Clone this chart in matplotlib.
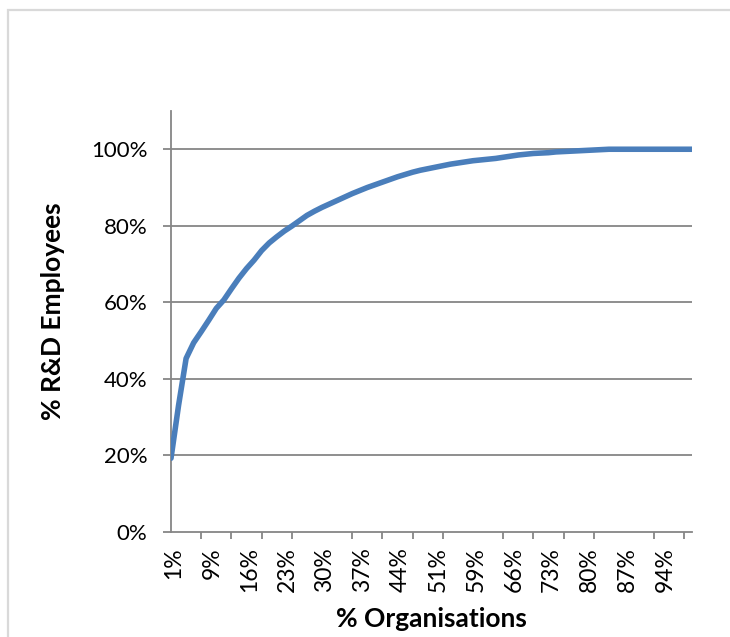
import matplotlib
matplotlib.use("Agg")
import matplotlib.pyplot as plt
import matplotlib.patches as mpatches
import matplotlib.transforms as mtransforms
import numpy as np

# cumulative share of R&D employees, one value per organisation band (70 bands)
rd_share = [
    0.192, 0.330, 0.453, 0.494, 0.523, 0.553, 0.584, 0.606, 0.635, 0.663,
    0.688, 0.710, 0.735, 0.755, 0.771, 0.786, 0.799, 0.813, 0.827, 0.838,
    0.848, 0.857, 0.866, 0.875, 0.884, 0.892, 0.900, 0.907, 0.914, 0.921,
    0.928, 0.934, 0.940, 0.945, 0.949, 0.953, 0.957, 0.961, 0.964, 0.967,
    0.970, 0.972, 0.974, 0.976, 0.979, 0.982, 0.985, 0.987, 0.989, 0.990,
    0.991, 0.993, 0.994, 0.995, 0.996, 0.997, 0.998, 0.999, 1.000, 1.000,
    1.000, 1.000, 1.000, 1.000, 1.000, 1.000, 1.000, 1.000, 1.000, 1.000,
]
xtick_labels = ["1%", "9%", "16%", "23%", "30%", "37%", "44%",
                "51%", "59%", "66%", "73%", "80%", "87%", "94%"]
ytick_values = [0.0, 0.2, 0.4, 0.6, 0.8, 1.0]
ytick_labels = ["0%", "20%", "40%", "60%", "80%", "100%"]

GREY = "#868686"
BLUE = "#4a7ebb"
FONT = "Lato"


def main():
    fig = plt.figure(figsize=(7.3, 6.37), dpi=100)
    fig.patch.set_facecolor("white")

    # outer chart frame (right/bottom edges fall outside the picture)
    frame = mpatches.Rectangle((8 / 730, -0.1), 1.0, 1 - 10 / 637 + 0.1,
                               transform=fig.transFigure, fill=False,
                               ec="#d9d9d9", lw=1.6)
    fig.add_artist(frame)

    ax = fig.add_axes([171 / 730, 1 - 531.7 / 637, 521 / 730, 420.7 / 637])

    x = np.arange(len(rd_share))
    ax.plot(x, rd_share, color=BLUE, lw=4.0, solid_capstyle="round",
            solid_joinstyle="round", zorder=3)

    ax.set_xlim(0, len(rd_share) - 1)
    ax.set_ylim(0, 1.1)

    for y in ytick_values[1:]:
        ax.axhline(y, color=GREY, lw=1.3, zorder=1)

    for side in ["top", "right"]:
        ax.spines[side].set_visible(False)
    for side in ["left", "bottom"]:
        ax.spines[side].set_color(GREY)
        ax.spines[side].set_linewidth(1.3)

    ax.set_yticks(ytick_values)
    ax.set_yticklabels(ytick_labels, fontfamily=FONT, fontsize=16)
    ax.tick_params(axis="y", length=6, width=1.3, color=GREY, pad=11)

    ax.set_xticks(x[::5])
    ax.set_xticklabels(xtick_labels, rotation=90, fontfamily=FONT, fontsize=16.5)
    ax.set_xticks(x[::4], minor=True)
    ax.tick_params(axis="x", which="major", length=0, pad=11)
    ax.tick_params(axis="x", which="minor", length=5, width=1.3, color=GREY)
    shift = mtransforms.ScaledTranslation(3 / 100, 0, fig.dpi_scale_trans)
    for lbl in ax.get_xticklabels():
        lbl.set_transform(lbl.get_transform() + shift)

    ax.set_ylabel("% R&D Employees", fontfamily=FONT, fontsize=19,
                  fontweight="bold")
    ax.yaxis.set_label_coords(-0.203, 0.525)
    ax.set_xlabel("% Organisations", fontfamily=FONT, fontsize=19,
                  fontweight="bold")
    ax.xaxis.set_label_coords(0.499, -0.18)

    fig.savefig("out.png", dpi=100)


if __name__ == "__main__":
    main()
